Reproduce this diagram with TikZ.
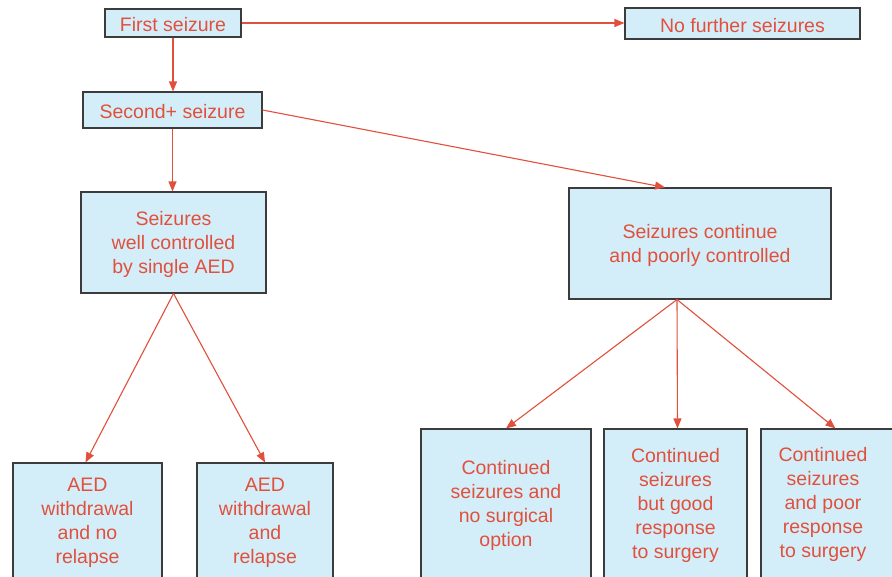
\documentclass[tikz,border=0pt]{standalone}
\usepackage{fontspec}
\setmainfont{Liberation Sans}
\usetikzlibrary{arrows.meta}
\definecolor{txtred}{HTML}{E1503C}
\definecolor{boxfill}{HTML}{D4EEF9}
\definecolor{boxline}{HTML}{3C3C3C}
\newcommand\mytopstrut{\rule{0pt}{17.5pt}}
\begin{document}
\begin{tikzpicture}[x=1pt,y=-1pt,
  txt/.style={font=\fontsize{19.5}{24}\selectfont, text=txtred, align=center, inner sep=0pt},
  box/.style={txt, draw=boxline, fill=boxfill, line width=1.1pt},
  arr/.style={draw=txtred, line width=1.1pt, -{Triangle[length=10pt,width=8pt]}}]
\useasboundingbox (0,0) rectangle (892,576);
\clip (0,0) rectangle (892,576);
\fill[white] (0,0) rectangle (892,576);

\node[box, minimum width=136pt, minimum height=28pt] (first) at (173,23) {\mytopstrut First seizure};
\node[box, minimum width=235pt, minimum height=31pt] (nofurther) at (742.5,23.5) {\mytopstrut No further seizures};
\node[box, minimum width=179pt, minimum height=36pt] (second) at (172.5,110) {\mytopstrut Second+ seizure};
\node[box, minimum width=185pt, minimum height=101pt] (well) at (173.5,242.5) {\mytopstrut Seizures\\well controlled\\by single AED};
\node[box, minimum width=262pt, minimum height=111pt] (cont) at (700,243.5) {\mytopstrut Seizures continue\\and poorly controlled};

\node[box, minimum width=149pt, minimum height=115pt] (aedA) at (87.5,520.5) {\mytopstrut AED\\withdrawal\\and no\\relapse};
\node[box, minimum width=136pt, minimum height=115pt] (aedB) at (265,520.5) {\mytopstrut AED\\withdrawal\\and\\relapse};
\node[box, minimum width=170pt, minimum height=149pt] (cA) at (506,503.5) {\mytopstrut Continued\\seizures and\\no surgical\\option};
\node[box, minimum width=143pt, minimum height=149pt] (cB) at (675.5,503.5) {\mytopstrut Continued\\seizures\\but good\\response\\to surgery};
\node[box, minimum width=139pt, minimum height=149pt] (cC) at (830.5,503.5) {};
\node[txt] (cCt) at (823,503) {\mytopstrut Continued\\seizures\\and poor\\response\\to surgery};

\draw[arr] (first.east) -- (first.east -| nofurther.west);
\draw[arr] (first.south) -- (first.south |- second.north);
\draw[arr] (second.south) -- (second.south |- well.north);
\draw[arr] (second.east) -- ([xshift=-35pt]cont.north);
\draw[arr] (well.south) -- ([xshift=-2pt]aedA.north);
\draw[arr] (well.south) -- (aedB.north);
\draw[arr] ([xshift=-23pt]cont.south) -- (cA.north);
\draw[arr] ([xshift=-23pt]cont.south) -- ([xshift=2pt]cB.north);
\draw[arr] ([xshift=-23pt]cont.south) -- ([xshift=5pt]cC.north);
\end{tikzpicture}
\end{document}
